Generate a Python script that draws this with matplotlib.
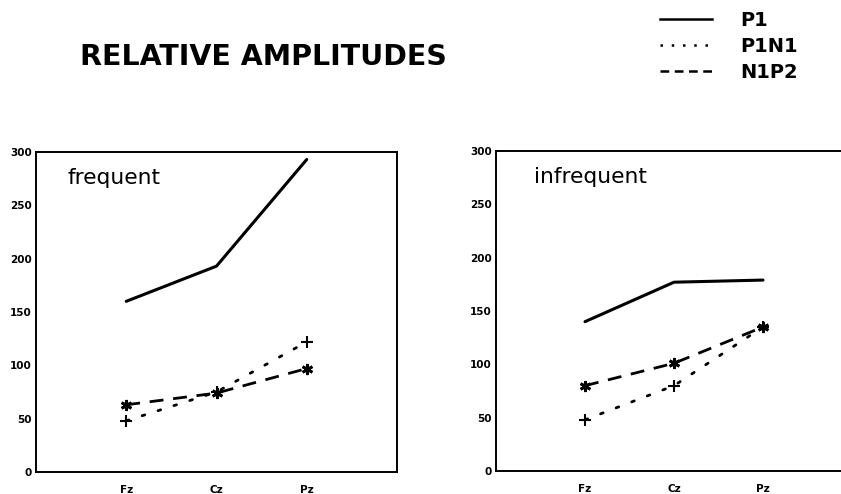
import matplotlib
matplotlib.use("Agg")
import matplotlib.pyplot as plt
from matplotlib.lines import Line2D

# electrode sites on the x axis
sites = ["Fz", "Cz", "Pz"]

# amplitudes
freq_p1 = [160, 193, 293]
freq_p1n1 = [48, 75, 122]
freq_n1p2 = [63, 74, 97]

infreq_p1 = [140, 177, 179]
infreq_p1n1 = [48, 80, 135]
infreq_n1p2 = [80, 101, 135]

yticks = [0, 50, 100, 150, 200, 250, 300]

plt.rcParams["font.family"] = ["DejaVu Sans"]

fig = plt.figure(figsize=(8.41, 4.94), dpi=100)

ASTER = (6, 2, 0)   # six-armed asterisk


def panel(rect, label, label_x, p1, p1n1, n1p2, show_right=True):
    ax = fig.add_axes(rect)
    xs = [1, 2, 3]
    ax.plot(xs, p1, color="black", lw=2.2, solid_capstyle="round")
    ax.plot(xs, p1n1, color="black", lw=2, linestyle=(0, (1, 5)),
            dash_capstyle="round", marker="+", ms=9, mew=1.5)
    ax.plot(xs, n1p2, color="black", lw=2, linestyle=(0, (5, 3.5)),
            marker=ASTER, ms=8, mew=2)
    ax.set_xlim(0, 4)
    ax.set_ylim(0, 300)
    ax.set_xticks(xs)
    ax.set_xticklabels(sites, fontsize=7.5, fontweight="bold")
    ax.set_yticks(yticks)
    ax.set_yticklabels([str(v) for v in yticks], fontsize=7.5,
                       fontweight="bold")
    ax.tick_params(axis="both", length=0)
    ax.tick_params(axis="x", pad=9)
    ax.tick_params(axis="y", pad=3)
    for s in ax.spines.values():
        s.set_linewidth(1.4)
    ax.spines["right"].set_visible(show_right)
    ax.text(label_x, 0.92, label, transform=ax.transAxes, fontsize=15.7,
            va="center", ha="left")
    return ax


panel([36 / 841, 22 / 494, 361 / 841, 320 / 494], "frequent", 0.086,
      freq_p1, freq_p1n1, freq_n1p2)
panel([496 / 841, 23 / 494, 356 / 841, 320 / 494], "infrequent", 0.107,
      infreq_p1, infreq_p1n1, infreq_n1p2, show_right=False)

fig.text(263 / 841, 1 - 57 / 494, "RELATIVE AMPLITUDES", fontsize=20.5,
         fontweight="bold", va="center", ha="center")

handles = [
    Line2D([], [], color="black", lw=1.8),
    Line2D([], [], color="black", lw=1.8, linestyle=(0, (1, 3.5))),
    Line2D([], [], color="black", lw=1.8, linestyle=(0, (3.5, 2.2))),
]
fig.legend(handles, ["P1", "P1N1", "N1P2"], loc="upper left",
           bbox_to_anchor=(652 / 841, 1 - 3 / 494), frameon=False,
           prop={"size": 14, "weight": "bold"}, handlelength=2.7,
           handletextpad=1.45, labelspacing=0.36, borderaxespad=0)

fig.savefig("out.png", dpi=100)
